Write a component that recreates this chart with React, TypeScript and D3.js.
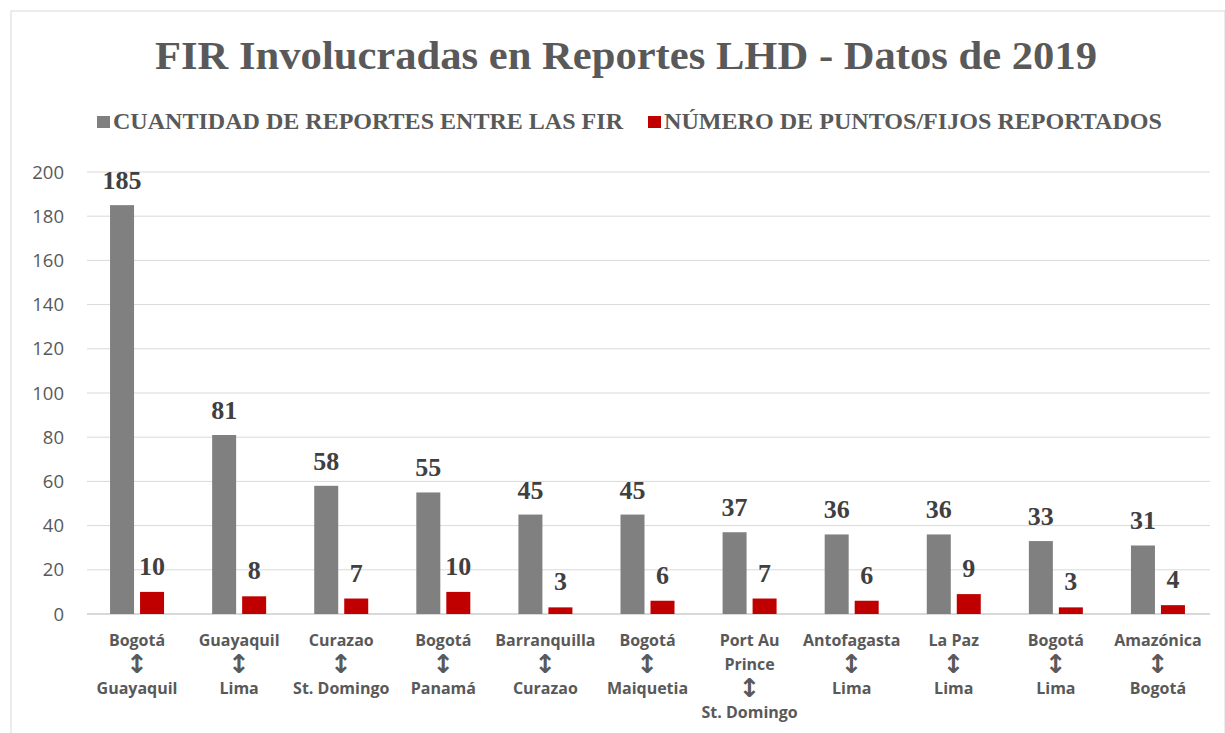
import React from "react";
import * as d3 from "d3";

const categories: string[][] = [
  ["Bogotá", "↕", "Guayaquil"],
  ["Guayaquil", "↕", "Lima"],
  ["Curazao", "↕", "St. Domingo"],
  ["Bogotá", "↕", "Panamá"],
  ["Barranquilla", "↕", "Curazao"],
  ["Bogotá", "↕", "Maiquetia"],
  ["Port Au", "Prince", "↕", "St. Domingo"],
  ["Antofagasta", "↕", "Lima"],
  ["La Paz", "↕", "Lima"],
  ["Bogotá", "↕", "Lima"],
  ["Amazónica", "↕", "Bogotá"],
];
const reportes: number[] = [185, 81, 58, 55, 45, 45, 37, 36, 36, 33, 31];
const puntos: number[] = [10, 8, 7, 10, 3, 6, 7, 6, 9, 3, 4];
const seriesNames: string[] = [
  "CUANTIDAD DE REPORTES ENTRE LAS FIR",
  "NÚMERO DE PUNTOS/FIJOS REPORTADOS",
];
const yTicks: number[] = [0, 20, 40, 60, 80, 100, 120, 140, 160, 180, 200];
const title = "FIR Involucradas en Reportes LHD - Datos de 2019";

const W = 1225;
const H = 733;
const left = 87;
const right = 1210;
const top = 172;
const bottom = 614;
const GRAY = "#808080";
const RED = "#c00000";
const TEXT = "#595959";

export default function App() {
  const x = d3
    .scaleBand<number>()
    .domain(d3.range(categories.length))
    .range([left, right]);
  const y = d3.scaleLinear().domain([0, 200]).range([bottom, top]);
  const barW = 24;
  const gap = 6;
  const serif = "'Liberation Serif', 'Times New Roman', serif";
  const sans = "'Open Sans', 'Liberation Sans', sans-serif";

  return (
    <svg
      width={W}
      height={H}
      style={{ position: "absolute", left: 0, top: 0, background: "#fff" }}
    >
      <rect x={11} y={11} width={W - 11} height={H} fill="#fff" stroke="#d9d9d9" strokeWidth={1} />
      <text
        x={155}
        y={69}
        textLength={942}
        lengthAdjust="spacingAndGlyphs"
        fontFamily={serif}
        fontWeight="bold"
        fontSize={41}
        fill={TEXT}
      >
        {title}
      </text>
      {/* legend */}
      <g fontFamily={serif} fontWeight="bold" fontSize={24} fill={TEXT}>
        <rect x={97} y={116} width={13} height={12} fill={GRAY} />
        <text x={113} y={129} textLength={510} lengthAdjust="spacingAndGlyphs">
          {seriesNames[0]}
        </text>
        <rect x={648} y={116} width={13} height={12} fill={RED} />
        <text x={664} y={129} textLength={498} lengthAdjust="spacingAndGlyphs">
          {seriesNames[1]}
        </text>
      </g>
      {/* grid */}
      {yTicks.map((t) => (
        <g key={t}>
          <line
            x1={left}
            x2={right}
            y1={y(t)}
            y2={y(t)}
            stroke="#d9d9d9"
            strokeWidth={t === 0 ? 2 : 1}
          />
          <text
            x={64}
            y={y(t) + 6.5}
            textAnchor="end"
            fontFamily={sans}
            fontSize={18.5}
            fill={TEXT}
          >
            {t}
          </text>
        </g>
      ))}
      {/* bars */}
      {categories.map((c, i) => {
        const cx = (x(i) as number) + x.bandwidth() / 2 - 1;
        const gx = cx - gap / 2 - barW;
        const rx = cx + gap / 2;
        return (
          <g key={i}>
            <rect x={gx} y={y(reportes[i])} width={barW} height={bottom - y(reportes[i])} fill={GRAY} />
            <rect x={rx} y={y(puntos[i])} width={barW} height={bottom - y(puntos[i])} fill={RED} />
            <text
              x={gx + barW / 2}
              y={y(reportes[i]) - 16}
              textAnchor="middle"
              fontFamily={serif}
              fontWeight="bold"
              fontSize={26}
              fill="#404040"
            >
              {reportes[i]}
            </text>
            <text
              x={rx + barW / 2}
              y={y(puntos[i]) - 17}
              textAnchor="middle"
              fontFamily={serif}
              fontWeight="bold"
              fontSize={26}
              fill="#404040"
            >
              {puntos[i]}
            </text>
            {c.map((line, j) =>
              line === "↕" ? (
                <text
                  key={j}
                  x={cx}
                  y={649 + j * 24}
                  textAnchor="middle"
                  fontFamily="'DejaVu Sans', sans-serif"
                  fontWeight="bold"
                  fontSize={26}
                  fill={TEXT}
                >
                  {line}
                </text>
              ) : (
                <text
                  key={j}
                  x={cx}
                  y={646 + j * 24}
                  textAnchor="middle"
                  fontFamily={sans}
                  fontWeight="bold"
                  fontSize={16}
                  fill={TEXT}
                >
                  {line}
                </text>
              )
            )}
          </g>
        );
      })}
    </svg>
  );
}
